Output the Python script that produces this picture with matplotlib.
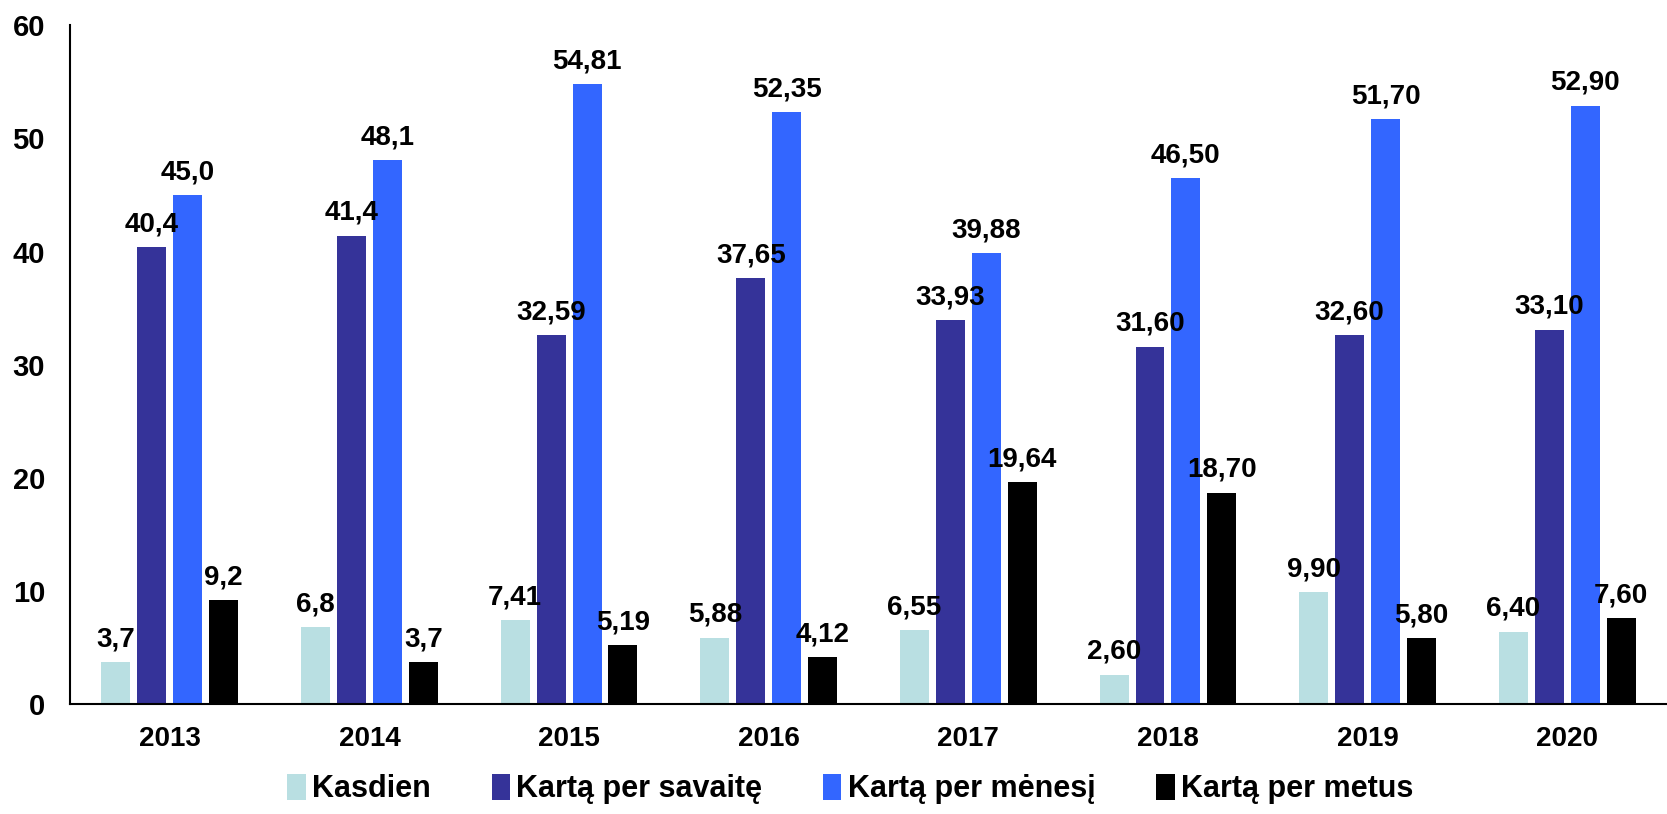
import numpy as np
import matplotlib.pyplot as plt

plt.rcParams['font.family'] = ['Liberation Sans', 'DejaVu Sans']
plt.rcParams['font.weight'] = 'bold'

years = ['2013', '2014', '2015', '2016', '2017', '2018', '2019', '2020']
decimals = [1, 1, 2, 2, 2, 2, 2, 2]
series_names = ['Kasdien', 'Kartą per savaitę', 'Kartą per mėnesį', 'Kartą per metus']
kasdien = [3.7, 6.8, 7.41, 5.88, 6.55, 2.60, 9.90, 6.40]
savaite = [40.4, 41.4, 32.59, 37.65, 33.93, 31.60, 32.60, 33.10]
menesi = [45.0, 48.1, 54.81, 52.35, 39.88, 46.50, 51.70, 52.90]
metus = [9.2, 3.7, 5.19, 4.12, 19.64, 18.70, 5.80, 7.60]
colors = ['#B9DFE2', '#353399', '#3366FF', '#000000']

fig = plt.figure(figsize=(16.67, 8.14), dpi=100)
ax = fig.add_axes([0.042, 0.135, 0.958, 0.834])

x = np.arange(len(years))
width = 0.145
step = 0.18
all_series = [kasdien, savaite, menesi, metus]
for i, (vals, name, col) in enumerate(zip(all_series, series_names, colors)):
    pos = x + (i - 1.5) * step
    bars = ax.bar(pos, vals, width, color=col, label=name)
    for b, v, d in zip(bars, vals, decimals):
        txt = f"{v:.{d}f}".replace('.', ',')
        ax.annotate(txt, (b.get_x() + b.get_width() / 2, v),
                    xytext=(0, 7), textcoords='offset points',
                    ha='center', va='bottom', fontsize=20, fontweight='bold')

ax.set_xlim(-0.5, 7.5)
ax.set_ylim(0, 60)
ax.set_yticks(np.arange(0, 61, 10))
ax.set_xticks(x)
ax.set_xticklabels(years)
ax.tick_params(axis='both', length=0)
ax.tick_params(axis='x', pad=16, labelsize=20)
ax.tick_params(axis='y', pad=18, labelsize=21)
for lbl in ax.get_xticklabels() + ax.get_yticklabels():
    lbl.set_fontweight('bold')
ax.spines['top'].set_visible(False)
ax.spines['right'].set_visible(False)
ax.spines['left'].set_linewidth(1.5)
ax.spines['bottom'].set_linewidth(1.5)

fig.legend(loc='lower center', bbox_to_anchor=(0.51, -0.022), ncol=4, frameon=False,
           prop={'size': 22, 'weight': 'bold'}, handlelength=0.6, handleheight=0.9,
           handletextpad=0.2, columnspacing=2.0)

fig.savefig('out.png', dpi=100)
